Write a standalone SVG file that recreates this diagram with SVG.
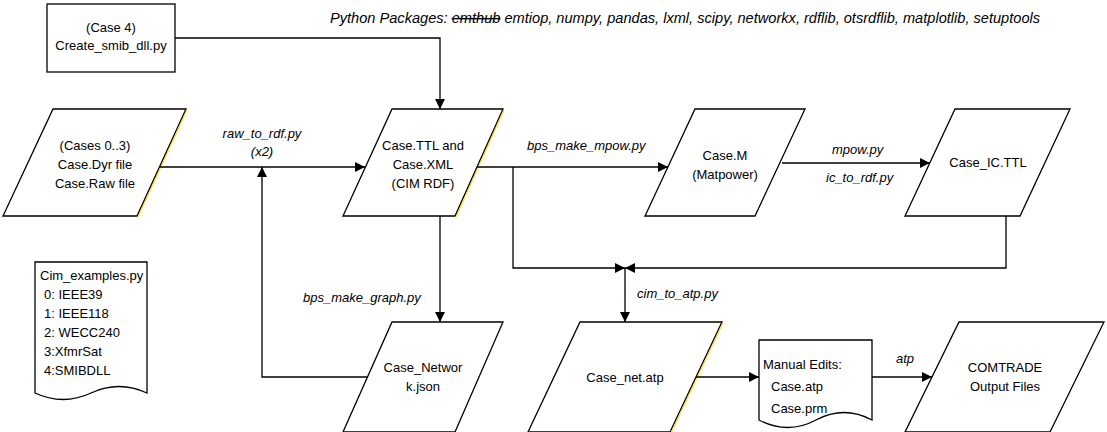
<svg xmlns="http://www.w3.org/2000/svg" width="1107" height="432" viewBox="0 0 1107 432">
<style>
.s{fill:#fff;stroke:#000;stroke-width:1.3}
.y{stroke:#ffd800;stroke-width:1;fill:none}
text{font-family:"Liberation Sans",Arial,sans-serif;font-size:13px;fill:#000}
.c{text-anchor:middle}
.i{font-style:italic}
.l{stroke:#000;stroke-width:1.3;fill:none}
</style>
<defs><marker id="a" viewBox="0 0 10 10" refX="10" refY="5" markerWidth="10" markerHeight="10" markerUnits="userSpaceOnUse" orient="auto"><path d="M0,0L10,5L0,10z"/></marker></defs>
<text x="330" y="23" class="i" style="font-size:14.6px">Python Packages: <tspan text-decoration="line-through">emthub</tspan> emtiop, numpy, pandas, lxml, scipy, networkx, rdflib, otsrdflib, matplotlib, setuptools</text>
<g id="case4"><rect class="s" x="47" y="4" width="128" height="68"/><text class="c" x="111" y="32">(Case 4)</text><text class="c" x="111" y="50">Create_smib_dll.py</text></g>
<g id="cases"><path class="s" d="M53,109H186L137,216H3Z"/><path class="y" d="M187,110L138,217"/><text class="c" x="95" y="150">(Cases 0..3)</text><text class="c" x="95" y="169">Case.Dyr file</text><text class="c" x="95" y="188">Case.Raw file</text></g>
<g id="ttl"><path class="s" d="M392,109H503L455,216H343Z"/><path class="y" d="M504,110L456,217"/><text class="c" x="423" y="150">Case.TTL and</text><text class="c" x="423" y="169">Case.XML</text><text class="c" x="423" y="188">(CIM RDF)</text></g>
<g id="casem"><path class="s" d="M695,109H805L755,216H645Z"/><text class="c" x="725" y="160">Case.M</text><text class="c" x="725" y="179">(Matpower)</text></g>
<g id="ic"><path class="s" d="M955,109H1070L1020,216H905Z"/><text class="c" x="988" y="167">Case_IC.TTL</text></g>
<g id="cim"><path class="s" d="M35,262H147V393Q119,380 91,393T35,393Z"/><text x="40" y="280">Cim_examples.py</text><text x="44" y="299">0: IEEE39</text><text x="44" y="318">1: IEEE118</text><text x="44" y="337">2: WECC240</text><text x="44" y="356">3:XfmrSat</text><text x="44" y="375">4:SMIBDLL</text></g>
<g id="net"><path class="s" d="M392,322H503L455,432H343Z"/><text class="c" x="423" y="372">Case_Networ</text><text class="c" x="423" y="391">k.json</text></g>
<g id="netatp"><path class="s" d="M580,322H722L670,432H528Z"/><path class="y" d="M723,323L671,433"/><text class="c" x="625" y="382">Case_net.atp</text></g>
<g id="manual"><path class="s" d="M759,340H872V420Q844,405 816,420T759,420Z"/><text x="763" y="369">Manual Edits:</text><text x="771" y="391">Case.atp</text><text x="771" y="413">Case.prm</text></g>
<g id="comtrade"><path class="s" d="M959,322H1104L1050,432H905Z"/><text class="c" x="1005" y="372">COMTRADE</text><text class="c" x="1005" y="391">Output Files</text></g>
<g id="connectors">
<path class="l" d="M175,38H440V109" marker-end="url(#a)"/>
<path class="l" d="M160,167H365" marker-end="url(#a)"/>
<path class="l" d="M367,377H262V167" marker-end="url(#a)"/>
<path class="l" d="M440,216V322" marker-end="url(#a)"/>
<path class="l" d="M477,167H668" marker-end="url(#a)"/>
<path class="l" d="M782,163H930" marker-end="url(#a)"/>
<path class="l" d="M513,167V268H625" marker-end="url(#a)"/>
<path class="l" d="M1006,216V268H625" marker-end="url(#a)"/>
<path class="l" d="M625,268V322" marker-end="url(#a)"/>
<path class="l" d="M696,377H759" marker-end="url(#a)"/>
<path class="l" d="M872,377H932" marker-end="url(#a)"/>
</g>
<g id="labels" class="i">
<text class="c i" x="262" y="138">raw_to_rdf.py</text><text class="c i" x="262" y="156">(x2)</text>
<text class="i" x="527" y="150">bps_make_mpow.py</text>
<text class="i" x="832" y="154">mpow.py</text><text class="i" x="826" y="182">ic_to_rdf.py</text>
<text class="i" x="303" y="302">bps_make_graph.py</text>
<text class="i" x="637" y="298">cim_to_atp.py</text>
<text class="i" x="896" y="363">atp</text>
</g>
</svg>
